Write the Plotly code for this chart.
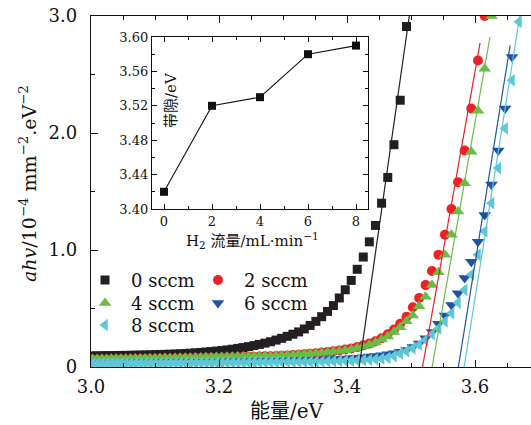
import plotly.graph_objects as go

# ---------------- data ----------------
wavelength_nm = list(range(413, 336, -1))          # 413 ... 337 nm, 1 nm steps
energy_ev = [1240.0 / w for w in wavelength_nm]    # photon energy grid

series_names = ["0 sccm", "2 sccm", "4 sccm", "6 sccm", "8 sccm"]

y_0sccm = [0.095, 0.095, 0.096, 0.097, 0.097, 0.098, 0.099, 0.099, 0.100, 0.101,
           0.102, 0.103, 0.104, 0.105, 0.106, 0.108, 0.109, 0.111, 0.113, 0.115,
           0.118, 0.121, 0.124, 0.128, 0.132, 0.136, 0.140, 0.146, 0.152, 0.159,
           0.166, 0.174, 0.183, 0.193, 0.204, 0.216, 0.230, 0.245, 0.262, 0.280,
           0.300, 0.325, 0.355, 0.390, 0.430, 0.475, 0.525, 0.590, 0.660, 0.740,
           0.835, 0.940, 1.070, 1.210, 1.400, 1.620, 1.900, 2.280, 2.910]

y_2sccm = [0.063, 0.063, 0.064, 0.064, 0.065, 0.065, 0.066, 0.066, 0.067, 0.067,
           0.068, 0.068, 0.069, 0.069, 0.070, 0.071, 0.071, 0.072, 0.073, 0.074,
           0.075, 0.076, 0.077, 0.078, 0.079, 0.080, 0.081, 0.082, 0.083, 0.084,
           0.085, 0.087, 0.088, 0.089, 0.091, 0.092, 0.094, 0.096, 0.099, 0.102,
           0.105, 0.109, 0.113, 0.118, 0.123, 0.128, 0.134, 0.141, 0.149, 0.158,
           0.170, 0.185, 0.200, 0.220, 0.245, 0.280, 0.320, 0.370, 0.430, 0.510,
           0.590, 0.700, 0.820, 0.960, 1.130, 1.350, 1.580, 1.850, 2.210, 2.620,
           3.000]

y_4sccm = [0.068, 0.068, 0.069, 0.069, 0.070, 0.070, 0.071, 0.071, 0.072, 0.072,
           0.073, 0.073, 0.074, 0.074, 0.075, 0.076, 0.076, 0.077, 0.078, 0.079,
           0.080, 0.081, 0.082, 0.083, 0.084, 0.085, 0.086, 0.087, 0.088, 0.089,
           0.090, 0.091, 0.092, 0.093, 0.094, 0.095, 0.096, 0.098, 0.100, 0.103,
           0.106, 0.109, 0.113, 0.117, 0.121, 0.126, 0.131, 0.137, 0.144, 0.152,
           0.162, 0.175, 0.190, 0.210, 0.235, 0.260, 0.300, 0.340, 0.390, 0.440,
           0.520, 0.600, 0.700, 0.810, 0.960, 1.130, 1.330, 1.570, 1.840, 2.190,
           2.550, 3.000]

y_6sccm = [0.035, 0.035, 0.036, 0.036, 0.036, 0.037, 0.037, 0.037, 0.038, 0.038,
           0.038, 0.039, 0.039, 0.039, 0.040, 0.040, 0.041, 0.041, 0.042, 0.042,
           0.043, 0.043, 0.044, 0.044, 0.045, 0.045, 0.046, 0.046, 0.047, 0.048,
           0.048, 0.049, 0.050, 0.050, 0.051, 0.052, 0.053, 0.054, 0.055, 0.056,
           0.057, 0.058, 0.060, 0.062, 0.064, 0.066, 0.068, 0.070, 0.073, 0.076,
           0.080, 0.084, 0.089, 0.094, 0.100, 0.108, 0.118, 0.130, 0.145, 0.170,
           0.200, 0.245, 0.300, 0.370, 0.440, 0.530, 0.630, 0.760, 0.900, 1.070,
           1.300, 1.560, 1.850, 2.210, 2.650, 3.200]

y_8sccm = [0.030, 0.030, 0.030, 0.030, 0.031, 0.031, 0.031, 0.031, 0.032, 0.032,
           0.032, 0.032, 0.033, 0.033, 0.033, 0.034, 0.034, 0.034, 0.035, 0.035,
           0.035, 0.036, 0.036, 0.036, 0.037, 0.037, 0.037, 0.038, 0.038, 0.038,
           0.039, 0.039, 0.040, 0.040, 0.041, 0.041, 0.042, 0.042, 0.043, 0.043,
           0.044, 0.045, 0.045, 0.046, 0.047, 0.048, 0.049, 0.050, 0.052, 0.054,
           0.056, 0.058, 0.061, 0.066, 0.071, 0.078, 0.093, 0.115, 0.135, 0.160,
           0.190, 0.230, 0.280, 0.330, 0.390, 0.460, 0.550, 0.660, 0.790, 0.960,
           1.160, 1.400, 1.700, 2.040, 2.450, 2.950, 3.500]

# linear (Tauc) fits: x-intercept, slope, top of drawn segment
fit_intercept = [3.419, 3.518, 3.533, 3.574, 3.583]
fit_slope = [38.3, 30.8, 31.2, 34.0, 34.5]
fit_ytop = [3.0, 2.77, 2.82, 2.75, 3.0]

# inset: band gap vs H2 flow
h2_flow = [0, 2, 4, 6, 8]
band_gap = [3.42, 3.52, 3.53, 3.58, 3.59]

x_ticks = [3.0, 3.2, 3.4, 3.6]
x_ticktext = ["3.0", "3.2", "3.4", "3.6"]
y_ticks = [0, 1, 2, 3]
y_ticktext = ["0", "1.0", "2.0", "3.0"]

# ---------------- styling ----------------
colors = ["#231f20", "#ec2227", "#6cbb45", "#1f53a4", "#5fc6d5"]
symbols = ["square", "circle", "triangle-up", "triangle-down", "triangle-left"]
msizes = [9, 10, 11, 11, 11]
FONT = "DejaVu Serif, Noto Sans CJK SC, serif"

W, H = 531, 425
L, R, T, B = 91, 0, 16, 58
PW, PH = W - L - R, H - T - B


def px(xp):
    return (xp - L) / PW


def py(yp):
    return (H - B - yp) / PH


fig = go.Figure()

all_y = [y_0sccm, y_2sccm, y_4sccm, y_6sccm, y_8sccm]
for i, ys in enumerate(all_y):
    fig.add_trace(go.Scatter(
        x=energy_ev[:len(ys)], y=ys, mode="markers",
        marker=dict(symbol=symbols[i], size=msizes[i], color=colors[i], line=dict(width=0)),
        showlegend=False, xaxis="x", yaxis="y"))

for i in range(5):
    eg, s, yt = fit_intercept[i], fit_slope[i], fit_ytop[i]
    fig.add_trace(go.Scatter(
        x=[eg, eg + yt / s], y=[0, yt], mode="lines",
        line=dict(color=colors[i], width=1.2), showlegend=False,
        xaxis="x", yaxis="y"))

# inset
fig.add_trace(go.Scatter(
    x=h2_flow, y=band_gap, mode="lines+markers",
    line=dict(color="#111111", width=1.1),
    marker=dict(symbol="square", size=8, color="#111111"),
    showlegend=False, xaxis="x2", yaxis="y2"))

# manual legend (two columns)
leg_pos = [(105, 280), (218, 280), (105, 303), (218, 303), (105, 325)]
for i in range(5):
    fig.add_trace(go.Scatter(
        x=[leg_pos[i][0]], y=[leg_pos[i][1]], mode="markers",
        marker=dict(symbol=symbols[i], size=msizes[i], color=colors[i], line=dict(width=0)),
        showlegend=False, xaxis="x3", yaxis="y3", cliponaxis=False))

annotations = []
for i in range(5):
    annotations.append(dict(
        x=px(leg_pos[i][0] + 24), y=py(leg_pos[i][1]), xref="paper", yref="paper",
        text=series_names[i], showarrow=False, xanchor="left", yanchor="middle",
        font=dict(family=FONT, size=18, color="#111111")))

annotations.append(dict(
    x=px(28), y=py(184), xref="paper", yref="paper", textangle=-90,
    text="<i>ahv</i>/10<sup>−4</sup> mm<sup>−2</sup>.eV<sup>−2</sup>",
    showarrow=False, xanchor="center", yanchor="middle",
    font=dict(family=FONT, size=19, color="#111111")))
annotations.append(dict(
    x=px(287), y=py(411), xref="paper", yref="paper",
    text="能量/eV", showarrow=False, xanchor="center", yanchor="middle",
    font=dict(family=FONT, size=20, color="#111111")))
annotations.append(dict(
    x=px(171), y=py(100), xref="paper", yref="paper", textangle=-90,
    text="带隙/eV", showarrow=False, xanchor="center", yanchor="middle",
    font=dict(family=FONT, size=15, color="#111111")))
annotations.append(dict(
    x=px(252), y=py(240), xref="paper", yref="paper",
    text="H<sub>2</sub> 流量/mL·min<sup>−1</sup>", showarrow=False,
    xanchor="center", yanchor="middle",
    font=dict(family=FONT, size=15, color="#111111")))

axis_common = dict(showline=True, linecolor="#111111", linewidth=1.3,
                   ticks="inside", tickcolor="#111111", showgrid=False,
                   zeroline=False)

fig.update_layout(
    width=W, height=H,
    margin=dict(l=L, r=R, t=T, b=B, pad=0),
    paper_bgcolor="white", plot_bgcolor="white",
    font=dict(family=FONT, size=18, color="#111111"),
    xaxis=dict(range=[3.0, 3.0 + 440 / 640], domain=[0, 1],
               tickvals=x_ticks, ticktext=x_ticktext, ticklen=7, tickwidth=1.2,
               mirror="allticks", ticklabelstandoff=3,
               minor=dict(dtick=0.05, tick0=3.0, ticklen=4, ticks="inside",
                          tickcolor="#111111", tickwidth=1.1),
               tickfont=dict(size=18), **axis_common),
    yaxis=dict(range=[0, 3.0], domain=[0, 1],
               tickvals=y_ticks, ticktext=y_ticktext, ticklen=7, tickwidth=1.2,
               ticklabelstandoff=9,
               minor=dict(dtick=0.5, tick0=0, ticklen=4, ticks="inside",
                          tickcolor="#111111", tickwidth=1.1),
               tickfont=dict(size=18), **axis_common),
    xaxis2=dict(range=[-0.5, 8.5], domain=[px(152), px(368)], anchor="y2",
                tickvals=[0, 2, 4, 6, 8], ticklen=5, tickwidth=1,
                mirror="allticks",
                minor=dict(dtick=1, tick0=0, ticklen=3, ticks="inside",
                           tickcolor="#111111"),
                tickfont=dict(size=13), **axis_common),
    yaxis2=dict(range=[3.40, 3.60], domain=[py(209), py(37)], anchor="x2",
                tickvals=[3.40, 3.44, 3.48, 3.52, 3.56, 3.60], tickformat=".2f",
                ticklen=5, tickwidth=1, mirror="allticks",
                minor=dict(dtick=0.02, tick0=3.40, ticklen=3, ticks="inside",
                           tickcolor="#111111"),
                tickfont=dict(size=13), **axis_common),
    xaxis3=dict(range=[L, W - R], domain=[0, 1], visible=False, overlaying="x",
                anchor="y3"),
    yaxis3=dict(range=[H - B, T], domain=[0, 1], visible=False, overlaying="y",
                anchor="x3"),
    annotations=annotations,
)

fig.write_html("out.html")
